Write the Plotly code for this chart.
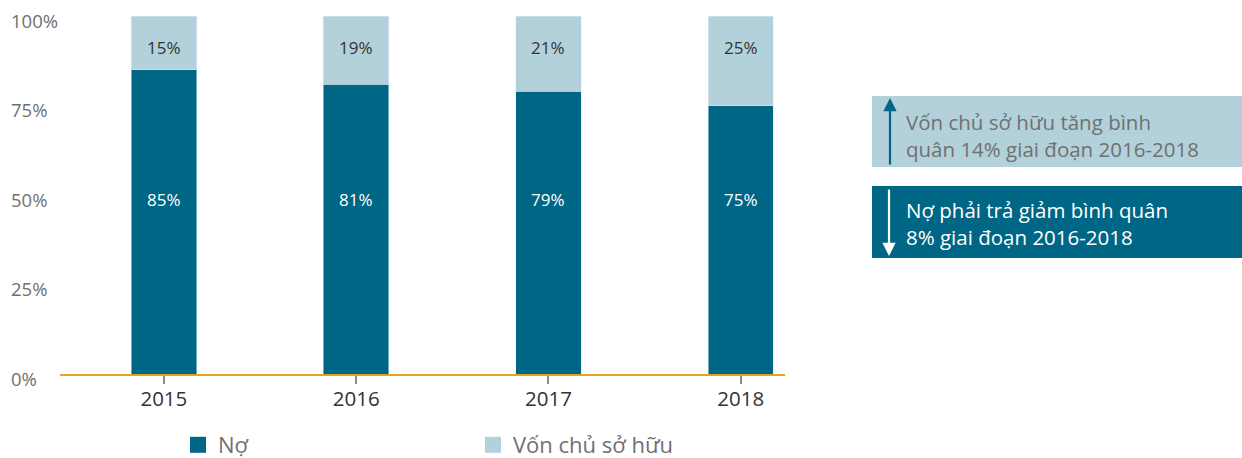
import plotly.graph_objects as go

years = ["2015", "2016", "2017", "2018"]
debt = [85, 81, 79, 75]
equity = [15, 19, 21, 25]
ytick_vals = [0, 25, 50, 75, 100]
ytick_text = ["0%", "25%", "50%", "75%", "100%"]

DARK = "#006685"
LIGHT = "#b3d1db"
FONT = "Open Sans"

W, H = 1242, 458
L, R, T, B = 60, 457, 16, 84
PW = W - L - R
PH = H - T - B

def px(x):
    return (x - L) / PW

def py(y):
    return (H - B - y) / PH

fig = go.Figure()
fig.add_trace(go.Bar(x=years, y=debt, name="Nợ", marker_color=DARK, width=0.34,
                     hoverinfo="skip", showlegend=False))
fig.add_trace(go.Bar(x=years, y=equity, name="Vốn chủ sở hữu", marker_color=LIGHT,
                     width=0.34, hoverinfo="skip", showlegend=False))
# legend entries (square swatches)
for name, col in [("Nợ", DARK), ("Vốn chủ sở hữu", LIGHT)]:
    fig.add_trace(go.Scatter(x=[None], y=[None], mode="markers", name=name,
                             marker=dict(symbol="square", size=20, color=col),
                             hoverinfo="skip"))

ann = []
for i, (d, e) in enumerate(zip(debt, equity)):
    ann.append(dict(x=i, y=48.7, xref="x", yref="y", text=f"{d}%", showarrow=False,
                    font=dict(family=FONT, size=17, color="white")))
    ann.append(dict(x=i, y=91.3, xref="x", yref="y", text=f"{e}%", showarrow=False,
                    font=dict(family=FONT, size=17, color="#333333")))
for v, t in zip(ytick_vals, ytick_text):
    ann.append(dict(x=px(9), y=v, xref="paper", yref="y", text=t, showarrow=False,
                    xanchor="left", yanchor="middle", yshift=-4,
                    font=dict(family=FONT, size=18.5, color="#707070")))

# arrows
ann.append(dict(x=px(890), y=py(98), ax=0, ay=68, xref="paper", yref="paper",
                axref="pixel", ayref="pixel", text="", showarrow=True, arrowhead=2,
                arrowsize=1.2, arrowwidth=2.2, arrowcolor=DARK))
ann.append(dict(x=px(889), y=py(256), ax=0, ay=-68, xref="paper", yref="paper",
                axref="pixel", ayref="pixel", text="", showarrow=True, arrowhead=2,
                arrowsize=1.2, arrowwidth=2.2, arrowcolor="white"))
ann.append(dict(x=px(904), y=py(135), xref="paper", yref="paper", xanchor="left",
                yanchor="middle", align="left", showarrow=False,
                text="Vốn chủ sở hữu tăng bình<br>quân 14% giai đoạn 2016-2018",
                font=dict(family=FONT, size=20.5, color="#707070")))
ann.append(dict(x=px(904), y=py(223), xref="paper", yref="paper", xanchor="left",
                yanchor="middle", align="left", showarrow=False,
                text="Nợ phải trả giảm bình quân<br>8% giai đoạn 2016-2018",
                font=dict(family=FONT, size=20.5, color="white")))

shapes = [
    dict(type="rect", xref="paper", yref="paper", x0=px(872), x1=px(1242),
         y0=py(167), y1=py(96), fillcolor=LIGHT, line_width=0, layer="below"),
    dict(type="rect", xref="paper", yref="paper", x0=px(872), x1=px(1242),
         y0=py(258), y1=py(186), fillcolor=DARK, line_width=0, layer="below"),
]

fig.update_layout(
    width=W, height=H, barmode="stack",
    margin=dict(l=L, r=R, t=T, b=B, autoexpand=False),
    plot_bgcolor="white", paper_bgcolor="white",
    font=dict(family=FONT),
    annotations=ann, shapes=shapes,
    showlegend=True,
    legend=dict(orientation="h", x=px(178), y=py(445), xanchor="left", yanchor="middle",
                traceorder="normal",
                entrywidth=250, entrywidthmode="pixels",
                font=dict(family=FONT, size=22, color="#707070"),
                itemwidth=30, bgcolor="rgba(0,0,0,0)"),
    xaxis=dict(type="category", range=[-0.54, 3.23], showline=True, linecolor="#e0a818",
               linewidth=2, ticks="outside", ticklen=8, tickwidth=2, tickcolor="#8c8c8c",
               ticklabelstandoff=-3,
               tickfont=dict(family=FONT, size=20.5, color="#333333"), showgrid=False,
               zeroline=False, fixedrange=True),
    yaxis=dict(range=[0, 100], showticklabels=False, showgrid=False, zeroline=False,
               showline=False, fixedrange=True),
)

fig.write_html("out.html", config={"displayModeBar": False},
               post_script="document.body.style.margin='0';document.body.style.overflow='hidden';")
